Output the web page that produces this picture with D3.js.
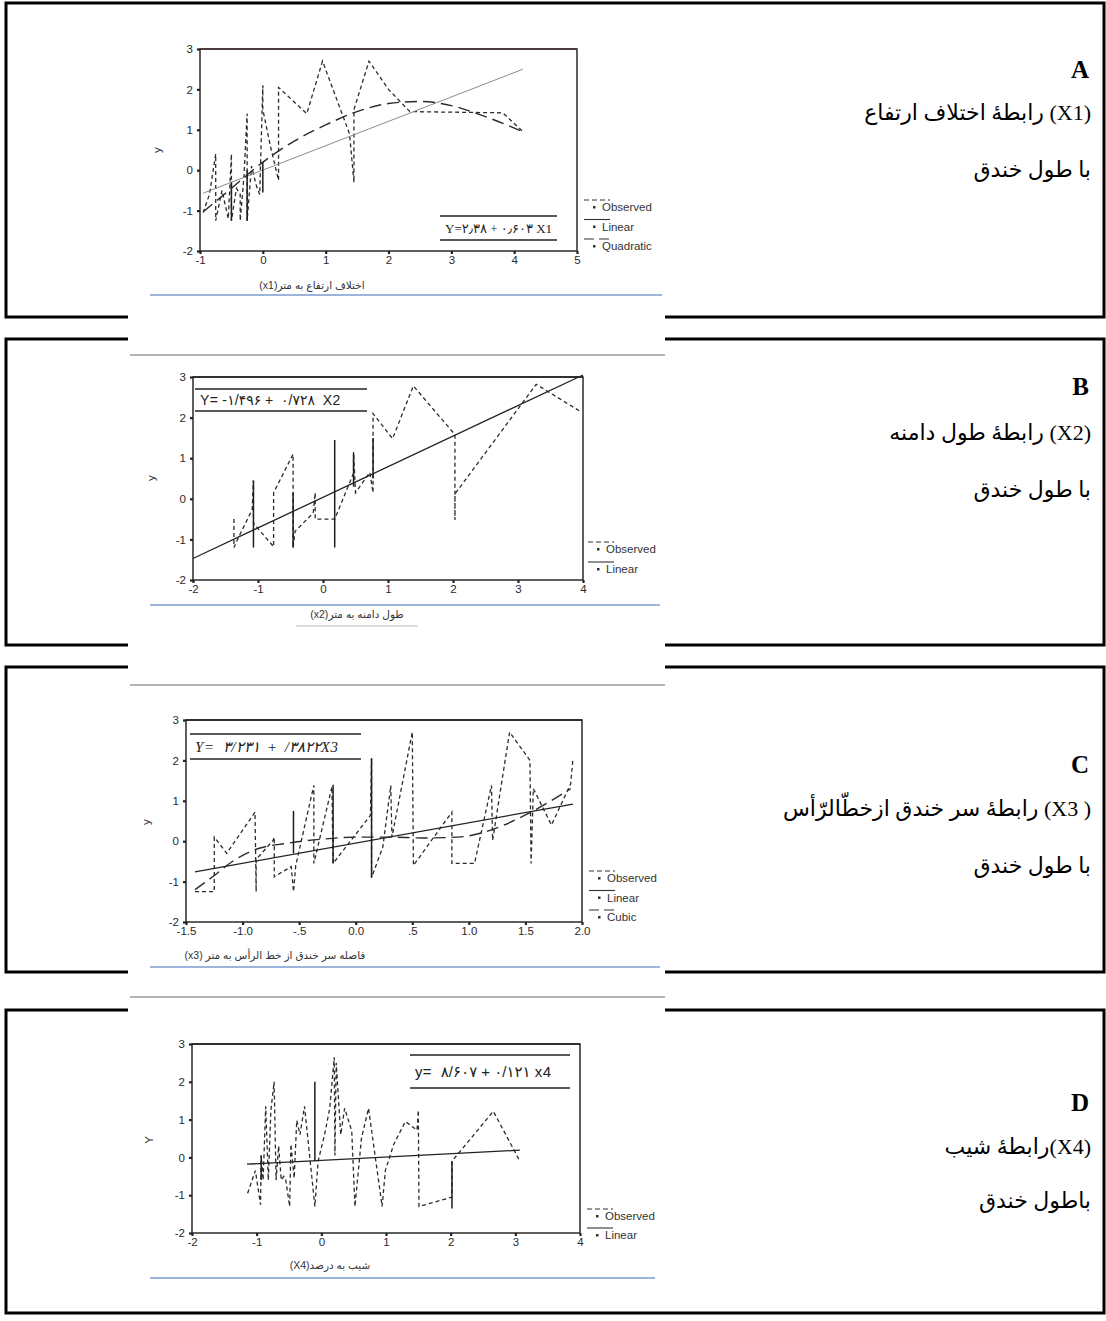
<!DOCTYPE html>
<html>
<head>
<meta charset="utf-8">
<script src="https://cdn.jsdelivr.net/npm/d3@7"></script>
<style>
  body { margin: 0; background: #fff; }
  svg { display: block; }
</style>
</head>
<body>
<script>
// ---- data ----
const yTicks = [-2, -1, 0, 1, 2, 3]

// A : x1
const ticksA = [-1, 0, 1, 2, 3, 4, 5]
const obsAx = [-0.95,-0.85,-0.75,-0.75,-0.65,-0.55,-0.5,-0.5,-0.42,-0.36,-0.36,-0.3,-0.25,-0.25,-0.18,-0.1,-0.05,0,0,0.12,0.25,0.25,0.7,0.95,1.38,1.45,1.45,1.69,2.0,2.34,3.82,4.14]
const obsAy = [-1.05,-0.6,0.4,-1.25,-0.5,-1.2,0.4,-1.25,-0.45,-0.6,-1.25,-0.15,1.4,-1.25,0.1,-0.4,-0.6,2.1,1.5,0.6,-0.25,2.05,1.4,2.7,0.9,-0.3,1.5,2.7,2.0,1.45,1.42,0.95]
const dropAx = [-0.5, -0.25, 0]
const dropAtop = [-0.3, 0.0, 0.2]
const dropAbot = [-1.25, -1.25, -0.55]
const linAx = [-0.95, 4.14]
const linAy = [-0.57, 2.5]
const quadAx = [-0.95,-0.5,0,0.5,1,1.5,2,2.5,3,3.5,4.14]
const quadAy = [-1.03,-0.45,0.2,0.72,1.12,1.45,1.65,1.7,1.6,1.35,0.95]

// B : x2
const ticksB = [-2, -1, 0, 1, 2, 3, 4]
const obsBx = [-1.37,-1.37,-1.3,-1.09,-1.07,-1.07,-0.76,-0.76,-0.46,-0.46,-0.43,-0.15,-0.12,-0.12,0.18,0.47,0.47,0.5,0.72,0.77,0.77,1.07,1.39,2.03,2.03,2.03,3.28,3.95]
const obsBy = [-0.5,-1.2,-0.95,-0.27,0.45,-0.6,-1.18,0.15,1.1,-1.2,-0.8,-0.35,0.15,-0.5,-0.5,0.63,1.15,0.15,0.65,0.15,2.1,1.48,2.78,1.58,-0.52,0.12,2.82,2.16]
const dropBx = [-1.07, -0.46, 0.18, 0.47, 0.77]
const dropBtop = [0.45, 0.15, 1.45, 1.1, 1.5]
const dropBbot = [-1.2, -1.2, -1.2, 0.3, 0.5]
const linBx = [-2, 4]
const linBy = [-1.47, 3.05]

// C : x3
const ticksC = [-1.5, -1, -0.5, 0, 0.5, 1, 1.5, 2]
const tickLabelsC = ['-1.5', '-1.0', '-.5', '0.0', '.5', '1.0', '1.5', '2.0']
const obsCx = [-1.42,-1.3,-1.25,-1.25,-1.14,-0.89,-0.88,-0.88,-0.73,-0.72,-0.72,-0.57,-0.55,-0.53,-0.37,-0.37,-0.21,-0.2,0.13,0.14,0.14,0.24,0.31,0.32,0.5,0.51,0.85,0.85,1.05,1.2,1.21,1.36,1.54,1.55,1.57,1.73,1.9,1.92]
const obsCy = [-1.25,-1.25,-1.25,0.1,-0.3,0.72,-1.25,-0.45,0.02,0.1,-0.88,-0.63,-1.25,-0.6,1.38,-0.55,1.35,-0.55,0.64,2.05,-0.9,-0.14,1.38,0.1,2.7,-0.6,0.72,-0.55,-0.55,1.38,0.02,2.7,2.0,-0.55,1.3,0.4,1.42,2.05]
const dropCx = [-0.55, -0.2, 0.14]
const dropCtop = [0.75, 1.4, 2.05]
const dropCbot = [-0.3, -0.55, -0.9]
const linCx = [-1.42, 1.92]
const linCy = [-0.76, 0.92]
const cubCx = [-1.42,-1.25,-1.1,-0.9,-0.6,-0.3,0,0.3,0.6,0.9,1.2,1.5,1.9]
const cubCy = [-1.2,-0.85,-0.52,-0.22,-0.05,0.05,0.1,0.1,0.08,0.1,0.28,0.65,1.3]

// D : x4
const ticksD = [-2, -1, 0, 1, 2, 3, 4]
const obsDx = [-1.14,-1.02,-0.94,-0.93,-0.9,-0.86,-0.82,-0.78,-0.73,-0.7,-0.66,-0.62,-0.58,-0.55,-0.49,-0.47,-0.42,-0.38,-0.33,-0.26,-0.1,-0.05,0.05,0.13,0.2,0.21,0.23,0.3,0.36,0.47,0.52,0.62,0.73,0.94,0.99,1.12,1.3,1.48,1.5,1.51,2.02,2.02,2.66,3.07]
const obsDy = [-0.95,-0.35,-1.25,0.05,-0.6,1.35,-0.6,1.25,2.0,-0.6,0.3,-0.6,-0.5,-0.6,-1.3,0.35,-0.55,0.98,0.6,1.35,-1.3,-0.1,0.6,1.3,2.65,0.05,2.5,0.6,1.3,0.7,-1.3,0.5,1.3,-1.3,-0.35,0.35,0.95,0.72,1.25,-1.3,-1.05,-0.1,1.22,-0.1]
const dropDx = [-0.1, 2.02, -0.93]
const dropDtop = [2.0, -0.1, 0.05]
const dropDbot = [-0.1, -1.35, -0.6]
const linDx = [-1.15, 3.07]
const linDy = [-0.18, 0.19]

// texts
const letters = ['A', 'B', 'C', 'D']
const titles = ['رابطهٔ اختلاف ارتفاع (X1)', 'رابطهٔ طول دامنه (X2)', 'رابطهٔ سر خندق ازخطّالرّأس (X3 )', 'رابطهٔ شیب(X4)']
const subtitles = ['با طول خندق', 'با طول خندق', 'با طول خندق', 'باطول خندق']
const xTitles = ['(x1)اختلاف ارتفاع به متر', '(x2)طول دامنه به متر', '(x3) فاصله سر خندق از خط الرأس به متر', '(X4)شیب به درصد']
const yTitles = ['y', 'y', 'y', 'Y']
const equations = ['Y=۲٫۳۸ + ۰٫۶۰۳ X1', 'Y= -۱/۴۹۶ +  ۰/۷۲۸  X2', 'Y=  ۳/۲۳۱  +  /۳۸۲۲X3', 'y=  ۸/۶۰۷ + ۰/۱۲۱ x4']
const legendsA = ['Observed', 'Linear', 'Quadratic']
const legendsB = ['Observed', 'Linear']
const legendsC = ['Observed', 'Linear', 'Cubic']
const legendsD = ['Observed', 'Linear']

// ---- layout ----
const W = 1106, H = 1321
const svg = d3.select('body').append('svg')
    .attr('width', W)
    .attr('height', H)

const styles = {
    obs: { stroke: '#2b2b2b', width: 1.3, dash: '4,3' },
    linThin: { stroke: '#8c8c8c', width: 1, dash: null },
    lin: { stroke: '#222', width: 1.3, dash: null },
    fit: { stroke: '#2b2b2b', width: 1.4, dash: '12,6' },
}

const panels = [
    {
        top: 3, bottom: 317, topGap: false, bottomGap: true,
        plot: { l: 200, r: 577, t: 49, b: 251 }, xDom: [-1, 5], ticks: ticksA, tickLabels: null,
        series: [
            { xs: obsAx, ys: obsAy, st: 'obs' },
            { xs: linAx, ys: linAy, st: 'linThin' },
            { xs: quadAx, ys: quadAy, st: 'fit', curve: true },
        ],
        drops: [dropAx, dropAtop, dropAbot],
        legend: legendsA, legendSt: ['obs', 'linThin', 'fit'], legX: 584, legY: 211, legStep: 19.5,
        eq: { x0: 440, x1: 557, y0: 216, y1: 240, size: 13, family: 'Liberation Serif, DejaVu Sans', italic: false, ls: 0 },
        yLab: [161, 150], xLab: [312, 289], rule: [150, 662, 295],
        letterY: 78, titleY: 120, subY: 177, frameTop: '#4a3030',
    },
    {
        top: 339, bottom: 645, topGap: true, bottomGap: true,
        plot: { l: 193, r: 583, t: 377, b: 580 }, xDom: [-2, 4], ticks: ticksB, tickLabels: null,
        series: [
            { xs: obsBx, ys: obsBy, st: 'obs' },
            { xs: linBx, ys: linBy, st: 'lin' },
        ],
        drops: [dropBx, dropBtop, dropBbot],
        legend: legendsB, legendSt: ['obs', 'lin'], legX: 588, legY: 553, legStep: 20,
        eq: { x0: 195, x1: 367, y0: 389, y1: 411, size: 14, family: 'Liberation Sans, DejaVu Sans', italic: false, ls: 0.3 },
        yLab: [155, 478], xLab: [357, 618], rule: [150, 660, 605], edge: 355, underline: [296, 418, 626],
        letterY: 395, titleY: 440, subY: 497, frameTop: '#222',
    },
    {
        top: 667, bottom: 972, topGap: true, bottomGap: true,
        plot: { l: 186, r: 582, t: 720, b: 922 }, xDom: [-1.5, 2], ticks: ticksC, tickLabels: tickLabelsC,
        series: [
            { xs: obsCx, ys: obsCy, st: 'obs' },
            { xs: linCx, ys: linCy, st: 'lin' },
            { xs: cubCx, ys: cubCy, st: 'fit', curve: true },
        ],
        drops: [dropCx, dropCtop, dropCbot],
        legend: legendsC, legendSt: ['obs', 'lin', 'fit'], legX: 589, legY: 882, legStep: 19.5,
        eq: { x0: 190, x1: 361, y0: 734, y1: 759, size: 15, family: 'Liberation Serif, DejaVu Sans', italic: true, ls: 0.6 },
        yLab: [150, 822], xLab: [275, 959], rule: [150, 660, 967], edge: 685,
        letterY: 773, titleY: 816, subY: 873, frameTop: '#222',
    },
    {
        top: 1010, bottom: 1313, topGap: true, bottomGap: false,
        plot: { l: 192, r: 580, t: 1044, b: 1233 }, xDom: [-2, 4], ticks: ticksD, tickLabels: null,
        series: [
            { xs: obsDx, ys: obsDy, st: 'obs' },
            { xs: linDx, ys: linDy, st: 'lin' },
        ],
        drops: [dropDx, dropDtop, dropDbot],
        legend: legendsD, legendSt: ['obs', 'lin'], legX: 587, legY: 1220, legStep: 19,
        eq: { x0: 410, x1: 570, y0: 1055, y1: 1088, size: 15, family: 'Liberation Sans, DejaVu Sans', italic: false, ls: 0.3 },
        yLab: [153, 1140], xLab: [330, 1269], rule: [150, 655, 1278], edge: 997,
        letterY: 1111, titleY: 1154, subY: 1208, frameTop: '#222',
    },
]

// ---- panel borders ----
const bx0 = 6, bx1 = 1104, gapL = 128, gapR = 665
const border = d3.path()
panels.forEach(p => {
    ;[[p.top, p.topGap], [p.bottom, p.bottomGap]].forEach(([yy, gap]) => {
        if (gap) {
            border.moveTo(bx0 - 1.5, yy); border.lineTo(gapL, yy)
            border.moveTo(gapR, yy); border.lineTo(bx1 + 1.5, yy)
        } else {
            border.moveTo(bx0 - 1.5, yy); border.lineTo(bx1 + 1.5, yy)
        }
    })
    border.moveTo(bx0, p.top); border.lineTo(bx0, p.bottom)
    border.moveTo(bx1, p.top); border.lineTo(bx1, p.bottom)
})
svg.append('path')
    .attr('d', border.toString())
    .style('fill', 'none')
    .style('stroke', '#000')
    .style('stroke-width', 3)

// ---- charts ----
panels.forEach((p, pi) => {
    const g = svg.append('g')
    const x = d3.scaleLinear().domain(p.xDom).range([p.plot.l, p.plot.r])
    const y = d3.scaleLinear().domain([-2, 3]).range([p.plot.b, p.plot.t])

    // scan edge and rules
    if (p.edge) {
        g.append('line')
            .attr('x1', 130).attr('x2', 665).attr('y1', p.edge).attr('y2', p.edge)
            .style('stroke', '#6a6a6a').style('stroke-width', 1.2)
    }
    g.append('line')
        .attr('x1', p.rule[0]).attr('x2', p.rule[1]).attr('y1', p.rule[2]).attr('y2', p.rule[2])
        .style('stroke', '#7d9ccf').style('stroke-width', 1.3)
    if (p.underline) {
        g.append('line')
            .attr('x1', p.underline[0]).attr('x2', p.underline[1]).attr('y1', p.underline[2]).attr('y2', p.underline[2])
            .style('stroke', '#bbb').style('stroke-width', 1)
    }

    // frame
    g.append('rect')
        .attr('x', p.plot.l).attr('y', p.plot.t)
        .attr('width', p.plot.r - p.plot.l).attr('height', p.plot.b - p.plot.t)
        .style('fill', 'none').style('stroke', '#2a2a2a').style('stroke-width', 1.5)
    g.append('line')
        .attr('x1', p.plot.l).attr('x2', p.plot.r).attr('y1', p.plot.t).attr('y2', p.plot.t)
        .style('stroke', p.frameTop).style('stroke-width', 1.5)

    // axes
    const yAxis = g.append('g')
        .attr('transform', `translate(${p.plot.l},0)`)
        .call(d3.axisLeft(y).tickValues(yTicks).tickSize(3).tickPadding(4).tickFormat(d => d))
    const xAxis = g.append('g')
        .attr('transform', `translate(0,${p.plot.b})`)
        .call(d3.axisBottom(x).tickValues(p.ticks).tickSize(3).tickPadding(2)
            .tickFormat((d, i) => p.tickLabels ? p.tickLabels[i] : d))
    ;[yAxis, xAxis].forEach(a => {
        a.select('.domain').remove()
        a.selectAll('line').style('stroke', '#222').style('stroke-width', 2.2)
        a.selectAll('text')
            .style('font-family', 'Liberation Sans, Arial, sans-serif')
            .style('font-size', '11.5px')
            .style('fill', '#2a2a2a')
    })

    // observed / fitted lines
    p.series.forEach(s => {
        const st = styles[s.st]
        const line = d3.line()
            .x(d => x(d[0]))
            .y(d => y(d[1]))
            .curve(s.curve ? d3.curveMonotoneX : d3.curveLinear)
        g.append('path')
            .datum(d3.zip(s.xs, s.ys))
            .attr('d', line)
            .style('fill', 'none')
            .style('stroke', st.stroke)
            .style('stroke-width', st.width)
            .style('stroke-dasharray', st.dash)
    })

    // solid vertical drops of the observed trace
    const [dx, dt, db] = p.drops
    g.selectAll('.drop').data(d3.range(dx.length)).join('line')
        .attr('x1', i => x(dx[i])).attr('x2', i => x(dx[i]))
        .attr('y1', i => y(dt[i])).attr('y2', i => y(db[i]))
        .style('stroke', '#1e1e1e').style('stroke-width', 1.5)

    // equation box
    const eq = p.eq
    ;[eq.y0, eq.y1].forEach(yy => {
        g.append('line')
            .attr('x1', eq.x0).attr('x2', eq.x1).attr('y1', yy).attr('y2', yy)
            .style('stroke', '#222').style('stroke-width', 1.5)
    })
    g.append('text')
        .attr('x', eq.x0 + 5)
        .attr('y', (eq.y0 + eq.y1) / 2 + eq.size * 0.36)
        .text(equations[pi])
        .style('white-space', 'pre')
        .style('font-family', eq.family)
        .style('font-size', eq.size + 'px')
        .style('letter-spacing', eq.ls + 'px')
        .style('font-style', eq.italic ? 'italic' : 'normal')
        .style('fill', '#222')

    // legend
    p.legend.forEach((lab, i) => {
        const st = styles[p.legendSt[i]]
        const ly = p.legY + i * p.legStep
        g.append('line')
            .attr('x1', p.legX).attr('x2', p.legX + 26)
            .attr('y1', ly - 11).attr('y2', ly - 11)
            .style('stroke', '#333').style('stroke-width', 1.1)
            .style('stroke-dasharray', st.dash ? (p.legendSt[i] === 'obs' ? '5,3' : '10,5') : null)
        g.append('rect')
            .attr('x', p.legX + 9).attr('y', ly - 5).attr('width', 2.5).attr('height', 2.5)
            .style('fill', '#333')
        g.append('text')
            .attr('x', p.legX + 18).attr('y', ly)
            .text(lab)
            .style('font-family', 'Liberation Sans, Arial, sans-serif')
            .style('font-size', '11.5px')
            .style('fill', '#333')
    })

    // axis titles
    g.append('text')
        .attr('transform', `translate(${p.yLab[0]},${p.yLab[1]}) rotate(-90)`)
        .attr('text-anchor', 'middle')
        .text(yTitles[pi])
        .style('font-family', 'Liberation Sans, Arial, sans-serif')
        .style('font-size', '11.5px')
        .style('fill', '#333')
    g.append('text')
        .attr('x', p.xLab[0]).attr('y', p.xLab[1])
        .attr('text-anchor', 'middle')
        .text(xTitles[pi])
        .style('font-family', 'Liberation Sans, DejaVu Sans, sans-serif')
        .style('font-size', '10.5px')
        .style('fill', '#333')

    // right-hand caption
    const tx = 1091
    g.append('text')
        .attr('x', tx - 2).attr('y', p.letterY)
        .attr('text-anchor', 'end')
        .text(letters[pi])
        .style('font-family', 'Liberation Serif, serif')
        .style('font-weight', 'bold')
        .style('font-size', '25px')
    g.append('text')
        .attr('x', tx).attr('y', p.titleY)
        .attr('text-anchor', 'end')
        .text(titles[pi])
        .style('font-family', 'Liberation Serif, DejaVu Sans, serif')
        .style('font-size', '22px')
    g.append('text')
        .attr('x', tx).attr('y', p.subY)
        .attr('text-anchor', 'end')
        .text(subtitles[pi])
        .style('font-family', 'Liberation Serif, DejaVu Sans, serif')
        .style('font-size', '22px')
})
</script>
</body>
</html>
